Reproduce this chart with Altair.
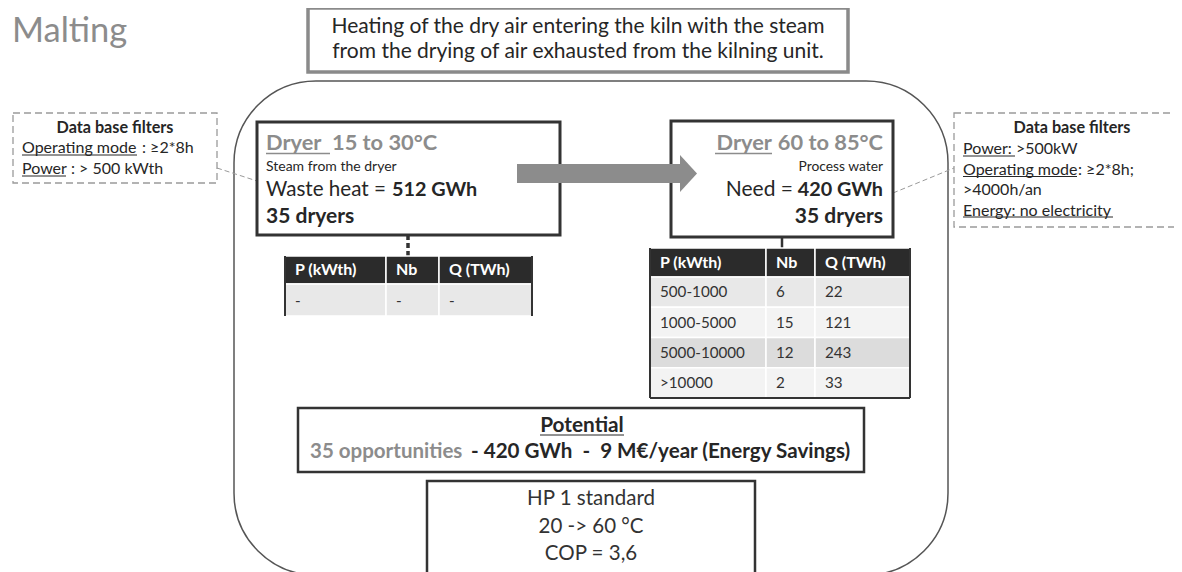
import altair as alt
import pandas as pd

# ---------------- content ----------------
TITLE = "Malting"
CONTEXT = ["Heating of the dry air entering the kiln with the steam",
           "from the drying of air exhausted from the kilning unit."]
SRC_HEAD = ["Dryer", "15 to 30°C"]
SRC_SUB = "Steam from the dryer"
SRC_LABEL = ["Waste heat =", "512 GWh"]
SRC_COUNT = "35 dryers"
SNK_HEAD = ["Dryer", "60 to 85°C"]
SNK_SUB = "Process water"
SNK_LABEL = ["Need =", "420 GWh"]
SNK_COUNT = "35 dryers"
TABLE_COLS = ["P (kWth)", "Nb", "Q (TWh)"]
SRC_P = ["-"]
SRC_NB = ["-"]
SRC_Q = ["-"]
SNK_P = ["500-1000", "1000-5000", "5000-10000", ">10000"]
SNK_NB = [6, 15, 12, 2]
SNK_Q = [22, 121, 243, 33]
FILTER_HEAD = "Data base filters"
LEFT_FILTER_KEYS = ["Operating mode", "Power"]
LEFT_FILTER_VALS = [": \u22652*8h", ": > 500 kWth"]
RIGHT_FILTER_KEYS = ["Power: ", "Operating mode", "", "Energy: no electricity"]
RIGHT_FILTER_VALS = [">500kW", ": \u22652*8h;", ">4000h/an", ""]
POT_HEAD = "Potential"
POT_OPP = "35 opportunities"
POT_REST = "- 420 GWh\u00a0\u00a0-\u00a0\u00a09 M\u20ac/year (Energy Savings)"
HP_LINES = ["HP 1 standard", "20 -> 60 \u00b0C", "COP = 3,6"]

# ---------------- style / layout ----------------
FONT = "Lato, 'DejaVu Sans'"
DARK = "#262626"
GREY = "#8c8c8c"
W, H = 1166, 564
X0, Y0 = 8, 8
XS = alt.Scale(domain=[X0, X0 + W], nice=False, zero=False)
YS = alt.Scale(domain=[Y0, Y0 + H], nice=False, zero=False, reverse=True)


def ex():
    return alt.X("x:Q", scale=XS, axis=None)


def ey():
    return alt.Y("y:Q", scale=YS, axis=None)


def rect_layer(rows, **mark):
    df = pd.DataFrame(rows)
    enc = dict(x=ex(), x2="x2:Q", y=ey(), y2="y2:Q")
    if "fill" in df.columns:
        enc["fill"] = alt.Fill("fill:N", scale=None)
    if "stroke" in df.columns:
        enc["stroke"] = alt.Stroke("stroke:N", scale=None)
    if "sw" in df.columns:
        enc["strokeWidth"] = alt.StrokeWidth("sw:Q", scale=None)
    return alt.Chart(df).mark_rect(**mark).encode(**enc)


def rule_layer(rows, **mark):
    df = pd.DataFrame(rows)
    return alt.Chart(df).mark_rule(**mark).encode(
        x=ex(), x2="x2:Q", y=ey(), y2="y2:Q")


texts = []


def T(x, y, text, size, color=DARK, weight="normal", align="left"):
    if text:
        texts.append(dict(x=x, y=y, text=text, size=size, color=color,
                          weight=weight, align=align))


# title
T(12, 42, TITLE, 34.5, GREY)
# context box
for i, line in enumerate(CONTEXT):
    T(578, 33 + 25 * i, line, 21, DARK, align="center")
# source dryer box
T(266, 150, SRC_HEAD[0], 21.8, GREY, "bold")
T(332, 150, SRC_HEAD[1], 21.8, GREY, "bold")
T(266, 171, SRC_SUB, 14.0)
T(266, 196, SRC_LABEL[0], 20.6)
T(392, 196, SRC_LABEL[1], 19.8, DARK, "bold")
T(266, 223, SRC_COUNT, 21, DARK, "bold")
# sink dryer box
T(772, 150, SNK_HEAD[0], 21.8, GREY, "bold", "right")
T(883, 150, SNK_HEAD[1], 21.8, GREY, "bold", "right")
T(883, 171, SNK_SUB, 13.8, DARK, align="right")
T(793, 196, SNK_LABEL[0], 21.0, DARK, align="right")
T(883, 196, SNK_LABEL[1], 19.8, DARK, "bold", "right")
T(883, 223, SNK_COUNT, 21, DARK, "bold", "right")
# left filters
T(115, 133, FILTER_HEAD, 16.2, DARK, "bold", "center")
lf_val_x = [142, 71]
for i, (k, v) in enumerate(zip(LEFT_FILTER_KEYS, LEFT_FILTER_VALS)):
    T(22, 153 + 21 * i, k, 16)
    T(lf_val_x[i], 153 + 21 * i, v, 16)
# right filters
T(1072, 133, FILTER_HEAD, 16.2, DARK, "bold", "center")
rf_val_x = [1016, 1078, 963, 963]
for i, (k, v) in enumerate(zip(RIGHT_FILTER_KEYS, RIGHT_FILTER_VALS)):
    T(963, 154 + 20.5 * i, k, 16)
    T(rf_val_x[i], 154 + 20.5 * i, v, 16)
# tables
SRC_TAB = dict(x=[285, 386, 439, 532], top=256, head_h=28, row_h=32)
SNK_TAB = dict(x=[650, 766, 815, 910], top=248, head_h=29, row_h=30.25)
SNK_FILLS = ["#e8e8e8", "#f3f3f3", "#dcdcdc", "#f3f3f3"]
cells = []
for tab, cols, fills in [(SRC_TAB, [SRC_P, SRC_NB, SRC_Q], ["#e8e8e8"]),
                         (SNK_TAB, [SNK_P, SNK_NB, SNK_Q], SNK_FILLS)]:
    xs = tab["x"]
    top = tab["top"]
    hb = top + tab["head_h"]
    for c, name in enumerate(TABLE_COLS):
        cells.append(dict(x=xs[c], x2=xs[c + 1], y=top, y2=hb, fill="#2b2b2b"))
        T(xs[c] + 10, top + tab["head_h"] - 9, name, 16, "white", "bold")
    for r in range(len(cols[0])):
        y = hb + r * tab["row_h"]
        for c in range(3):
            cells.append(dict(x=xs[c], x2=xs[c + 1], y=y, y2=y + tab["row_h"],
                              fill=fills[r % len(fills)]))
            T(xs[c] + 10, y + tab["row_h"] - 10, str(cols[c][r]), 15.2, "#333333")
# potential
T(582, 432, POT_HEAD, 20.8, DARK, "bold", "center")
T(310, 458, POT_OPP, 20.5, GREY, "bold")
T(471, 458, POT_REST, 20.6, DARK, "bold")
# heat pump
for i, line in enumerate(HP_LINES):
    T(591, 505 + 27.5 * i, line, 20.5, "#333333", align="center")

layers = []

# outer rounded frame
layers.append(rect_layer([dict(x=234, x2=948, y=81, y2=575)],
                         cornerRadius=82, fill="white", fillOpacity=0,
                         stroke="#555555", strokeWidth=1.5))
# dashed filter boxes
layers.append(rect_layer([dict(x=13, x2=217, y=113, y2=183),
                          dict(x=954, x2=1200, y=113, y2=227)],
                         fill="white", stroke="#9a9a9a", strokeWidth=1.3,
                         strokeDash=[7, 4]))
# dashed leaders
layers.append(rule_layer([dict(x=217, x2=257, y=168, y2=181),
                          dict(x=893, x2=954, y=193, y2=168)],
                         color="#9a9a9a", strokeWidth=1, strokeDash=[5, 3]))
# connectors
layers.append(rule_layer([dict(x=408, x2=408, y=235, y2=256)],
                         color="#333333", strokeWidth=3.5, strokeDash=[5, 3]))
layers.append(rule_layer([dict(x=782, x2=782, y=237, y2=248)],
                         color="#333333", strokeWidth=2.5))
# solid boxes
layers.append(rect_layer([
    dict(x=308, x2=848, y=8, y2=72, fill="white", stroke="#8a8a8a", sw=3.5),
    dict(x=257, x2=560, y=122, y2=235, fill="white", stroke="#333333", sw=3),
    dict(x=671, x2=893, y=121, y2=237, fill="white", stroke="#333333", sw=3),
    dict(x=298, x2=864, y=408, y2=472, fill="white", stroke="#333333", sw=2.5),
    dict(x=427, x2=755, y=481, y2=600, fill="white", stroke="#333333", sw=2.5),
]))
# arrow
layers.append(rect_layer([dict(x=517, x2=681, y=164, y2=183)], fill=GREY))
arrow_head = pd.DataFrame([dict(x=680, y=155, y2=192),
                           dict(x=697, y=173.5, y2=173.5)])
layers.append(alt.Chart(arrow_head).mark_area(color=GREY, orient="vertical").encode(
    x=ex(), y=ey(), y2="y2:Q"))
# table cells
layers.append(rect_layer(cells, stroke="white", strokeWidth=1.5))
# table borders
layers.append(rule_layer([dict(x=285, x2=285, y=256, y2=316),
                          dict(x=532, x2=532, y=256, y2=316),
                          dict(x=650, x2=650, y=248, y2=398),
                          dict(x=910, x2=910, y=248, y2=398),
                          dict(x=650, x2=910, y=398, y2=398)],
                         color="#333333", strokeWidth=2))
# underlines
layers.append(rule_layer([dict(x=266, x2=330, y=153.5, y2=153.5),
                          dict(x=715, x2=772, y=153.5, y2=153.5)],
                         color=GREY, strokeWidth=1.5))
layers.append(rule_layer([dict(x=22, x2=137, y=155, y2=155),
                          dict(x=22, x2=66, y=176, y2=176),
                          dict(x=963, x2=1015, y=156, y2=156),
                          dict(x=963, x2=1077, y=176.5, y2=176.5),
                          dict(x=963, x2=1113, y=217, y2=217),
                          dict(x=540, x2=624, y=435, y2=435)],
                         color=DARK, strokeWidth=1))

# texts
tdf = pd.DataFrame(texts)
for (weight, align), g in tdf.groupby(["weight", "align"]):
    layers.append(alt.Chart(g).mark_text(
        font=FONT, fontWeight=weight, align=align, baseline="alphabetic").encode(
        x=ex(), y=ey(), text="text:N",
        size=alt.Size("size:Q", scale=None),
        color=alt.Color("color:N", scale=None)))

chart = alt.layer(*layers).properties(
    width=W, height=H, padding=0,
    autosize=alt.AutoSizeParams(type="none"),
).configure_view(stroke=None)

chart.save("out.html", embed_options={"renderer": "svg", "actions": False})
